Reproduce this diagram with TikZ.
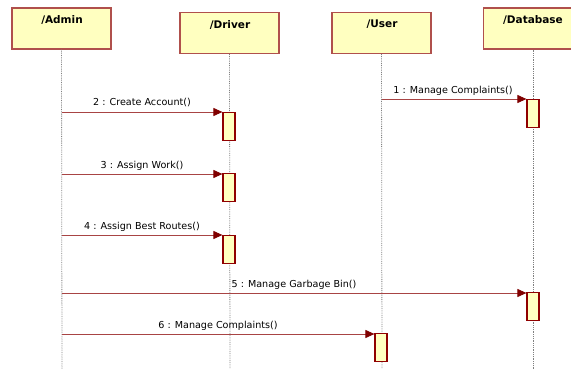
\documentclass[tikz,border=0pt]{standalone}
\usepackage{fontspec}
\setmainfont{DejaVu Sans}
\usetikzlibrary{arrows.meta}
\definecolor{boxfill}{HTML}{FFFFC0}
\definecolor{boxline}{HTML}{B0504C}
\definecolor{actline}{HTML}{900000}
\definecolor{msgline}{HTML}{A84444}
\definecolor{tipcol}{HTML}{800000}
\tikzset{
  obj/.style={draw=boxline, line width=1.4pt, fill=boxfill, minimum width=99pt, minimum height=41pt, inner sep=0pt},
  objlabel/.style={font=\fontsize{10.5}{12}\selectfont\bfseries},
  life/.style={draw=gray, densely dotted, line width=0.8pt},
  act/.style={draw=actline, line width=1.2pt, fill=boxfill, minimum width=12pt, minimum height=28pt, inner sep=0pt},
  msg/.style={draw=msgline, line width=0.9pt, -{Triangle[length=9pt,width=8pt,color=tipcol,fill=tipcol]}},
  msglabel/.style={font=\fontsize{9.6}{11}\selectfont, inner sep=0pt, anchor=base}
}
\begin{document}
\begin{tikzpicture}[x=1pt,y=-1pt]
\useasboundingbox (0,0) rectangle (571,369);
\fill[white] (0,0) rectangle (571,369);
% lifelines
\coordinate (adminEnd) at (62,369);
\coordinate (driverEnd) at (230,369);
\coordinate (userEnd) at (382,369);
\coordinate (dbEnd) at (533,369);
% object boxes
\node[obj] (admin) at (61.5,28.5) {};
\node[obj] (driver) at (229.5,33) {};
\node[obj] (user) at (381.5,33) {};
\node[obj] (db) at (533,28.5) {};
\node[objlabel] at (62,20) {/Admin};
\node[objlabel] at (230,24.5) {/Driver};
\node[objlabel] at (382,24.5) {/User};
\node[objlabel] at (533,20) {/Database};
\draw[life] (admin.south) -- (adminEnd);
\draw[life] (driver.south) -- (driverEnd);
\draw[life] (user.south) -- (userEnd);
\draw[life] (db.south) -- (dbEnd);
% activations
\node[act, anchor=north] (a1) at (533,99) {};
\node[act, anchor=north] (a2) at (229,112) {};
\node[act, anchor=north] (a3) at (229,173) {};
\node[act, anchor=north] (a4) at (229,235) {};
\node[act, anchor=north] (a5) at (533,292) {};
\node[act, anchor=north] (a6) at (381,333) {};
% message sources
\coordinate (s1) at (382,99);
\coordinate (s2) at (62,112);
\coordinate (s3) at (62,174);
\coordinate (s4) at (62,235);
\coordinate (s5) at (62,293);
\coordinate (s6) at (62,334);
\draw[msg] (s1) -- (s1 -| a1.west);
\draw[msg] (s2) -- (s2 -| a2.west);
\draw[msg] (s3) -- (s3 -| a3.west);
\draw[msg] (s4) -- (s4 -| a4.west);
\draw[msg] (s5) -- (s5 -| a5.west);
\draw[msg] (s6) -- (s6 -| a6.west);
\node[msglabel] (l1) at (453,93.5) {1 : Manage Complaints()};
\node[msglabel] (l2) at (142,106) {2 : Create Account()};
\node[msglabel] (l3) at (142,168) {3 : Assign Work()};
\node[msglabel] (l4) at (142,229.5) {4 : Assign Best Routes()};
\node[msglabel] (l5) at (294,287) {5 : Manage Garbage Bin()};
\node[msglabel] (l6) at (218,328) {6 : Manage Complaints()};
\end{tikzpicture}
\end{document}
